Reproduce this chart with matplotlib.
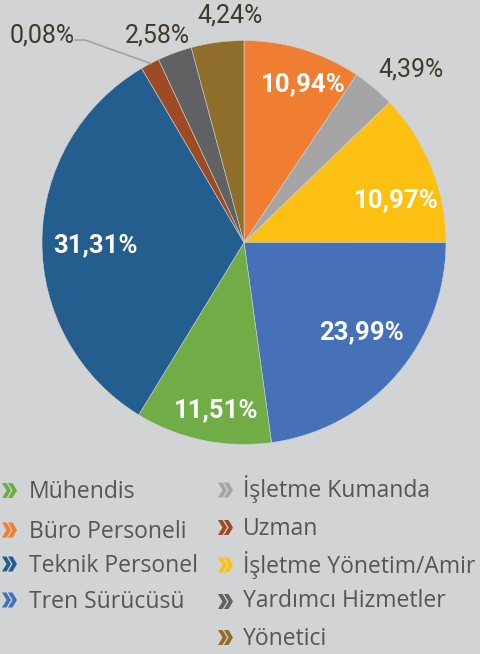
import matplotlib
matplotlib.use("Agg")
import matplotlib.pyplot as plt
from matplotlib.patches import Polygon

# slice order: clockwise from 12 o'clock
categories = ["Büro Personeli", "İşletme Kumanda", "İşletme Yönetim/Amir", "Tren Sürücüsü",
              "Mühendis", "Teknik Personel", "Uzman", "Yardımcı Hizmetler", "Yönetici"]
shares = [9.4, 3.4, 12.2, 22.8, 10.9, 32.8, 1.5, 2.75, 4.2]  # slice sizes as drawn
pct_labels = ["10,94%", "4,39%", "10,97%", "23,99%", "11,51%", "31,31%", "0,08%", "2,58%", "4,24%"]
colors = ["#ef7e32", "#a5a5a5", "#fcc012", "#4671b9", "#70ad47", "#245e8f", "#9e4a22", "#606163", "#8f6d2b"]

legend_col1 = ["Mühendis", "Büro Personeli", "Teknik Personel", "Tren Sürücüsü"]
legend_col2 = ["İşletme Kumanda", "Uzman", "İşletme Yönetim/Amir", "Yardımcı Hizmetler", "Yönetici"]

bg = "#d1d3d4"
W, H = 480, 654

fig = plt.figure(figsize=(W / 100, H / 100), dpi=100, facecolor=bg)

# pie axes: centre (244, 242.5) px, radius 202 px
cx, cy, r = 244, 242.5, 202
ax = fig.add_axes([(cx - r) / W, 1 - (cy + r) / H, 2 * r / W, 2 * r / H])
ax.pie(shares, colors=colors, startangle=90, counterclock=False, radius=1,
       wedgeprops=dict(edgecolor=bg, linewidth=0.4))
ax.set_xlim(-1, 1)
ax.set_ylim(-1, 1)
ax.set_aspect("equal")
ax.axis("off")

# overlay in pixel coordinates for labels and legend
ov = fig.add_axes([0, 0, 1, 1], facecolor="none")
ov.set_xlim(0, W)
ov.set_ylim(H, 0)
ov.axis("off")

# label baseline positions (px) and style
label_pos = [(303, 91.5), (411, 77), (396, 207), (362, 339), (216, 417),
             (95, 252), (42, 42), (157, 43), (230, 23)]
inside = [True, False, True, True, True, True, False, False, False]
for txt, (x, y), inn in zip(pct_labels, label_pos, inside):
    if inn:
        ov.text(x, y, txt, ha="center", va="baseline", color="white",
                fontsize=18.5, fontweight="bold", family="Roboto")
    else:
        ov.text(x, y, txt, ha="center", va="baseline", color="#41392b",
                fontsize=18, fontweight="normal", family="Roboto")

# leader line for the small slice
ov.plot([75, 85, 151], [40, 40, 63.5], color="#a3a3a3", lw=1.2)


def chevron(x, y, color):
    for o in (0, 6):
        pts = [(x + o, y - 7.5), (x + o + 4.5, y - 7.5), (x + o + 9, y),
               (x + o + 4.5, y + 7.5), (x + o, y + 7.5), (x + o + 4.5, y)]
        ov.add_patch(Polygon(pts, closed=True, facecolor=color, edgecolor="none"))


col_colors = dict(zip(categories, colors))
col1_y = [(490.5, 498.3), (530, 537.7), (564, 571.7), (600, 607.7)]
col2_y = [(490, 496.7), (527.5, 535), (565, 573.3), (601.5, 607.3), (637.5, 645)]

for name, (my, ty) in zip(legend_col1, col1_y):
    chevron(2, my, col_colors[name])
    ov.text(29, ty, name, ha="left", va="baseline", color="#555555",
            fontsize=16.5, family="Open Sans")
for name, (my, ty) in zip(legend_col2, col2_y):
    chevron(218, my, col_colors[name])
    ov.text(243, ty, name, ha="left", va="baseline", color="#555555",
            fontsize=16.5, family="Open Sans")

fig.savefig("out.png", dpi=100, facecolor=bg)
